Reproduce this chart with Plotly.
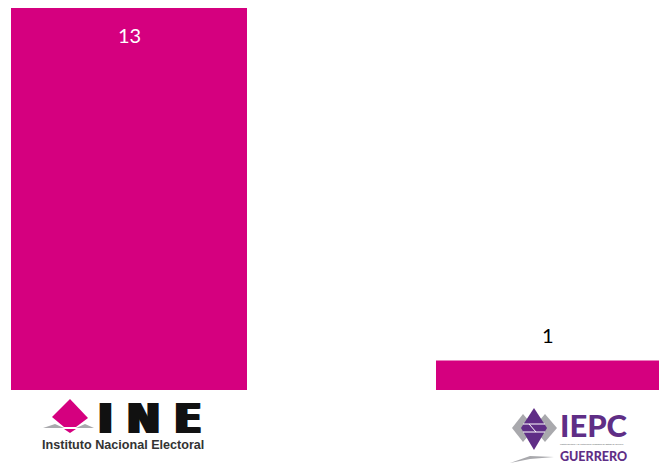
import plotly.graph_objects as go

categories = ["INE", "IEPC Guerrero"]
values = [13, 1]
label_colors = ["#FFFFFF", "#000000"]
label_shifts = [-27, 26]

W, H = 659, 464
BASE_Y = 390
TOP_Y = 8
CENTERS = [129, 547.5]
BAR_PX = [236, 223]
MAGENTA = "#D5007F"
PURPLE = "#5F2E86"
GRAY = "#A9A9AD"

unit_x = CENTERS[1] - CENTERS[0]
unit_y = (BASE_Y - TOP_Y) / max(values)

fig = go.Figure(go.Bar(
    x=[0, 1], y=values,
    width=[b / unit_x for b in BAR_PX],
    marker=dict(color=MAGENTA, line=dict(width=0)),
    customdata=categories,
    hoverinfo="skip",
))

for i, (v, c, s) in enumerate(zip(values, label_colors, label_shifts)):
    fig.add_annotation(x=i, y=v, text=str(v), showarrow=False, yshift=s,
                       font=dict(family="Lato", size=20, color=c))


def px(x, y):
    return x / W, 1 - y / H


def poly(points, color):
    d = ""
    for i, (x, y) in enumerate(points):
        a, b = px(x, y)
        d += ("M" if i == 0 else "L") + f"{a:.5f},{b:.5f} "
    fig.add_shape(type="path", path=d + "Z", xref="paper", yref="paper",
                  fillcolor=color, line=dict(width=0), layer="above")


def line(x0, y0, x1, y1, color, width=1):
    a0, b0 = px(x0, y0)
    a1, b1 = px(x1, y1)
    fig.add_shape(type="line", x0=a0, y0=b0, x1=a1, y1=b1, xref="paper", yref="paper",
                  line=dict(color=color, width=width), layer="above")


def label(x, y, text, family, size, color, weight=None, shadow=None):
    a, b = px(x, y)
    f = dict(family=family, size=size, color=color)
    if weight:
        f["weight"] = weight
    if shadow:
        f["shadow"] = shadow
    fig.add_annotation(x=a, y=b, xref="paper", yref="paper", text=text, showarrow=False,
                       xanchor="left", yanchor="middle", borderpad=0, font=f)


# INE logo
poly([(70, 399), (88, 418), (76, 427), (64, 427), (52, 417)], MAGENTA)
poly([(64, 429), (76, 429), (70, 433)], MAGENTA)
poly([(43, 428), (55, 424), (64, 428)], GRAY)
poly([(76, 428), (85, 424), (94, 428)], GRAY)
label(97, 419, "I N E", "DejaVu Sans", 40, "#111111", weight=700,
      shadow="1px 0 #111, 2px 0 #111, -1px 0 #111, -2px 0 #111")
label(41, 444.5, "Instituto Nacional Electoral", "Liberation Sans", 12.6, "#333333", weight=700)

# IEPC logo
poly([(512, 428), (523, 414), (535, 428), (523, 442)], GRAY)
poly([(533, 428), (545, 414), (557, 428), (545, 442)], GRAY)
poly([(534, 408), (547, 428), (534, 450), (521, 428)], PURPLE)
line(523, 424, 545, 424, "#FFFFFF", 1)
line(523, 432, 545, 432, "#FFFFFF", 1)
line(529, 424, 536, 432, "#FFFFFF", 1)
poly([(510, 463), (530, 456), (554, 457), (530, 459)], GRAY)
label(559, 425, "IEPC", "Lato", 31, PURPLE, weight=900)
label(559, 444, "Instituto Electoral y de Participación Ciudadana del Estado de Guerrero",
      "Liberation Sans", 2, "#555555")
label(559, 456, "GUERRERO", "Lato", 12.5, PURPLE, weight=900)

fig.update_layout(
    width=W, height=H, autosize=False,
    margin=dict(l=0, r=0, t=0, b=0),
    paper_bgcolor="white", plot_bgcolor="white",
    showlegend=False,
    xaxis=dict(visible=False, range=[-CENTERS[0] / unit_x, (W - CENTERS[0]) / unit_x]),
    yaxis=dict(visible=False, range=[-(H - BASE_Y) / unit_y, BASE_Y / unit_y]),
)

fig.write_html("out.html", config={"displayModeBar": False},
               post_script="document.body.style.margin='0';document.body.style.overflow='hidden';")
